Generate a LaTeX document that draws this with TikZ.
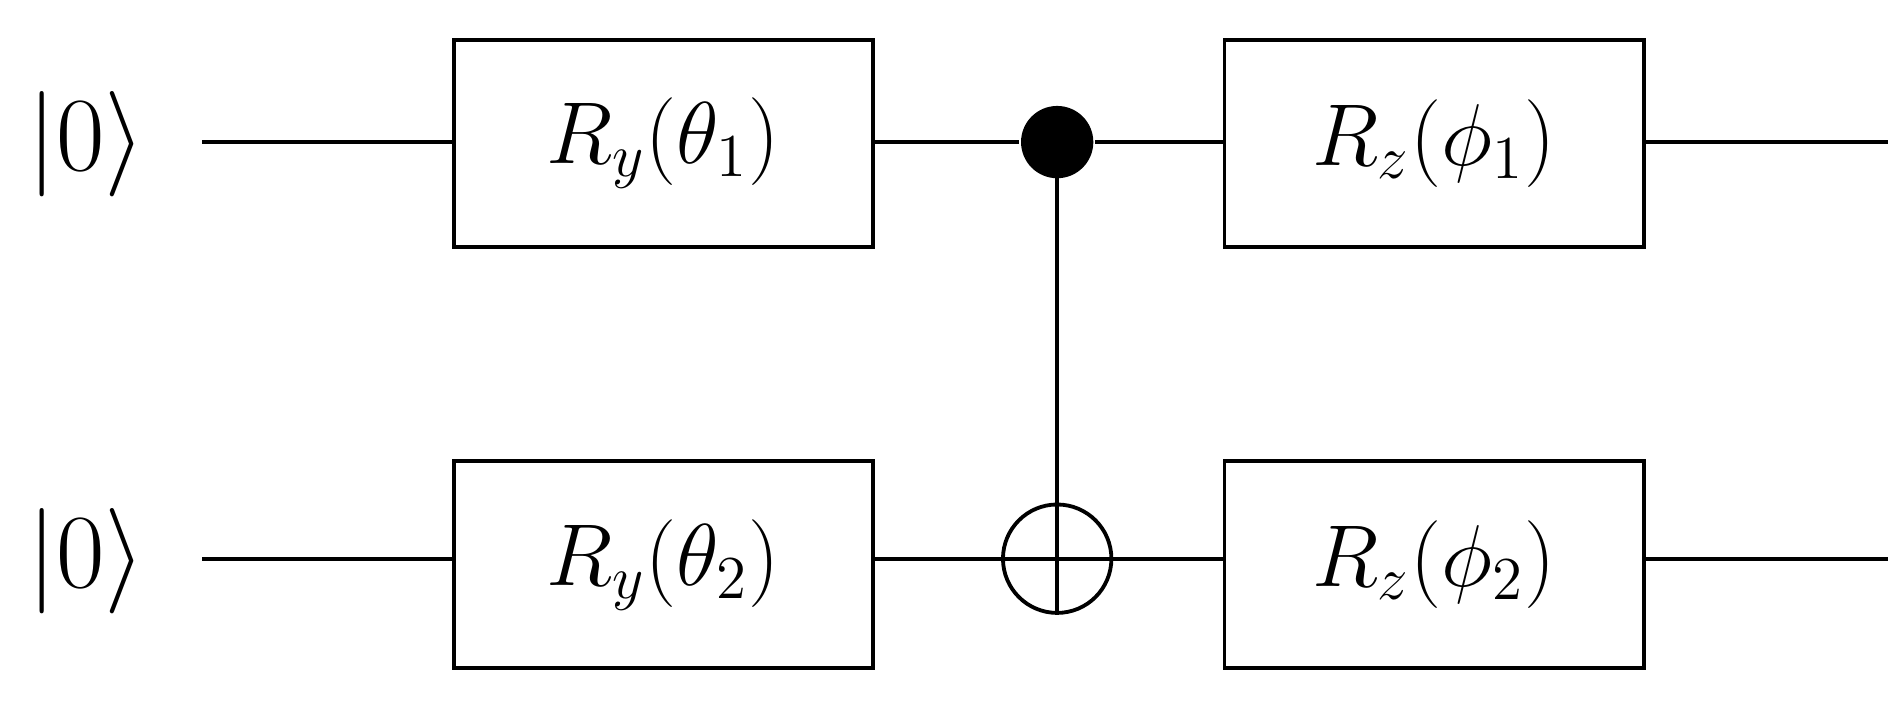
\documentclass[tikz,border=0pt]{standalone}
\begin{document}
\begin{tikzpicture}[x=0.01cm,y=-0.01cm,line width=0.9pt,
  gate/.style={draw,minimum width=3.48cm,minimum height=1.72cm,font=\fontsize{22}{26}\selectfont},
  ket/.style={font=\fontsize{26}{30}\selectfont}]
\useasboundingbox (0,0) rectangle (1568,594);
\node[ket] (k1) at (72,120) {$|0\rangle$};
\node[ket] (k2) at (72,466) {$|0\rangle$};
\coordinate (s1) at (168,118); \coordinate (s2) at (168,464);
\coordinate (e1) at (1568,118); \coordinate (e2) at (1568,464);
\node[gate] (ry1) at (551,119) {$R_y(\theta_1)$};
\node[gate] (ry2) at (551,469) {$R_y(\theta_2)$};
\node[gate] (rz1) at (1191,119) {$R_z(\phi_1)$};
\node[gate] (rz2) at (1191,469) {$R_z(\phi_2)$};
\node[circle,fill,inner sep=0,minimum size=0.6cm] (c) at (878,118) {};
\node[circle,draw,inner sep=0,minimum size=0.9cm] (t) at (878,464) {};
\draw (s1) -- (ry1.west|-s1); \draw (ry1.east|-s1) -- (c); \draw (c) -- (rz1.west|-s1); \draw (rz1.east|-s1) -- (e1);
\draw (s2) -- (ry2.west|-s2); \draw (ry2.east|-s2) -- (t.west); \draw (t.east) -- (rz2.west|-s2); \draw (rz2.east|-s2) -- (e2);
\draw (c.center) -- (t.south); \draw (t.west) -- (t.east);
\end{tikzpicture}
\end{document}
